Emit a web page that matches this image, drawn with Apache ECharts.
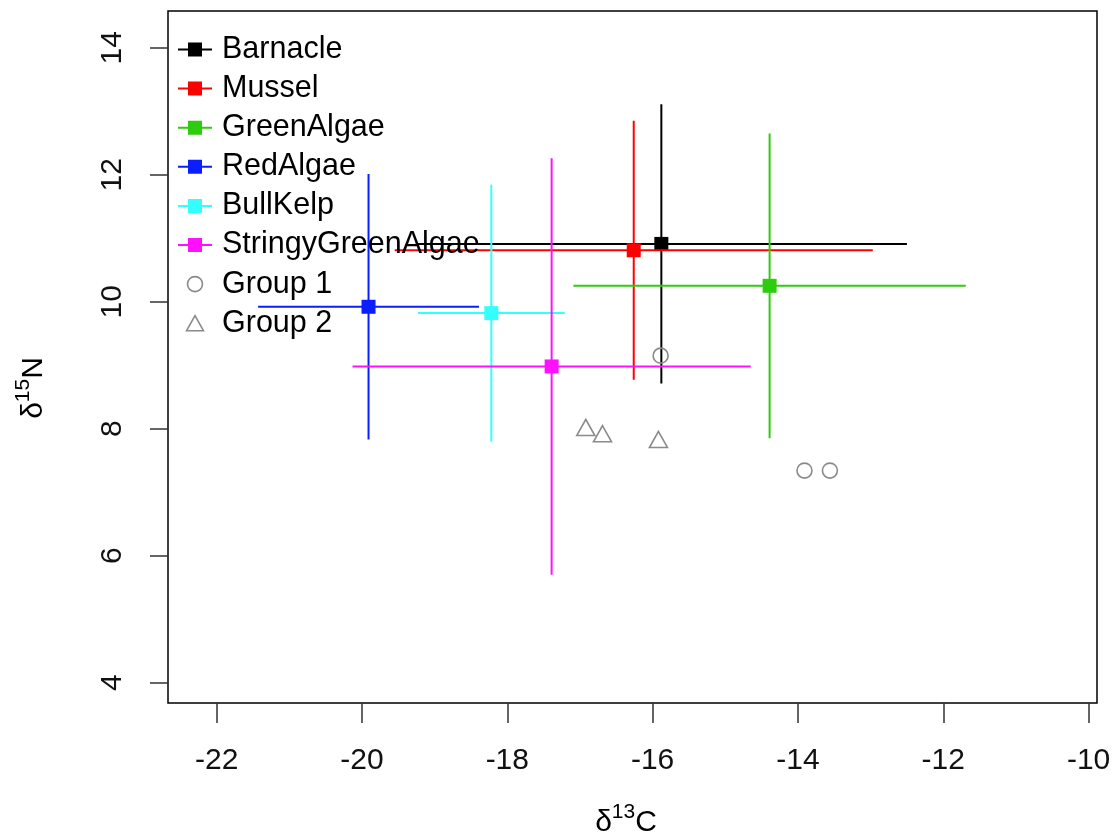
<!DOCTYPE html>
<html>
<head>
<meta charset="utf-8">
<script src="https://cdn.jsdelivr.net/npm/echarts@6/dist/echarts.min.js"></script>
<style>
html,body{margin:0;padding:0;background:#fff;}
#chart{width:1114px;height:837px;}
</style>
</head>
<body>
<div id="chart"></div>
<script>
// ---- data ----
const species = ['Barnacle', 'Mussel', 'GreenAlgae', 'RedAlgae', 'BullKelp', 'StringyGreenAlgae'];
const meanC = [-15.88, -16.26, -14.39, -19.91, -18.22, -17.39];
const meanN = [10.91, 10.81, 10.25, 9.92, 9.82, 8.98];
const sdC = [3.38, 3.29, 2.70, 1.52, 1.01, 2.74];
const sdN = [2.20, 2.04, 2.40, 2.09, 2.02, 3.28];
const group1C = [-15.89, -13.91, -13.56];
const group1N = [9.15, 7.34, 7.34];
const group2C = [-16.92, -16.69, -15.92];
const group2N = [8.02, 7.92, 7.83];
const groupNames = ['Group 1', 'Group 2'];
const xTicks = [-22, -20, -18, -16, -14, -12, -10];
const yTicks = [4, 6, 8, 10, 12, 14];

// ---- styles ----
const colors = ['#000000', '#FF0000', '#2ECC0E', '#0A1EFF', '#33FFFF', '#FF11FF'];
const grey = '#8a8a8a';
const FONT = 'Liberation Sans, Arial, Helvetica, sans-serif';

const chart = echarts.init(document.getElementById('chart'), null, {renderer: 'canvas'});

function renderErr(params, api) {
  const x = api.value(0), y = api.value(1), sx = api.value(2), sy = api.value(3);
  const c = api.coord([x, y]);
  const l = api.coord([x - sx, y]);
  const r = api.coord([x + sx, y]);
  const t = api.coord([x, y + sy]);
  const b = api.coord([x, y - sy]);
  const col = api.visual('color');
  const lw = 2;
  const half = 7;
  return {
    type: 'group',
    children: [
      {type: 'line', shape: {x1: l[0], y1: l[1], x2: r[0], y2: r[1]}, style: {stroke: col, lineWidth: lw}},
      {type: 'line', shape: {x1: t[0], y1: t[1], x2: b[0], y2: b[1]}, style: {stroke: col, lineWidth: lw}},
      {type: 'rect', shape: {x: c[0] - half, y: c[1] - half, width: 2 * half, height: 2 * half}, style: {fill: col}}
    ]
  };
}

const series = species.map((name, i) => ({
  name: name,
  type: 'custom',
  renderItem: renderErr,
  itemStyle: {color: colors[i]},
  encode: {x: 0, y: 1},
  data: [[meanC[i], meanN[i], sdC[i], sdN[i]]],
  z: 2
}));

const triPath = 'path://M9,0 L18,16 L0,16 Z';

series.push({
  name: groupNames[0],
  type: 'scatter',
  symbol: 'circle',
  symbolSize: 15,
  itemStyle: {color: 'rgba(0,0,0,0)', borderColor: grey, borderWidth: 1.6, opacity: 1},
  data: group1C.map((v, i) => [v, group1N[i]]),
  z: 3
});
series.push({
  name: groupNames[1],
  type: 'scatter',
  symbol: 'triangle',
  symbolSize: [18, 16],
  itemStyle: {color: 'rgba(0,0,0,0)', borderColor: grey, borderWidth: 1.6, opacity: 1},
  data: group2C.map((v, i) => [v, group2N[i]]),
  z: 3
});

const lineSquareIcon = 'path://M0,6 L34,6 L34,8 L0,8 Z M10,0 L24,0 L24,14 L10,14 Z';
const circlePath = 'path://M15,7.5 A7.5,7.5 0 1 1 0,7.5 A7.5,7.5 0 1 1 15,7.5 Z';

const legendData = species.map((name) => ({name: name, icon: lineSquareIcon}));
legendData.push({name: groupNames[0], icon: circlePath, itemStyle: {color: 'rgba(0,0,0,0)', borderColor: grey, borderWidth: 1.6}});
legendData.push({name: groupNames[1], icon: triPath, itemStyle: {color: 'rgba(0,0,0,0)', borderColor: grey, borderWidth: 1.6}});

const option = {
  animation: false,
  backgroundColor: '#ffffff',
  textStyle: {fontFamily: FONT},
  grid: {
    left: 168, top: 11, right: 17, bottom: 134,
    show: true, borderColor: '#000', borderWidth: 1.5, backgroundColor: 'transparent',
    containLabel: false
  },
  legend: {
    orient: 'vertical',
    left: 173,
    top: 29,
    itemWidth: 34,
    itemHeight: 15,
    itemGap: 8.1,
    symbolKeepAspect: true,
    selectedMode: false,
    data: legendData,
    textStyle: {fontSize: 30.5, color: '#000', fontFamily: FONT, lineHeight: 30, padding: [0, 0, 0, 5]}
  },
  xAxis: {
    type: 'value',
    min: -22.67,
    max: -9.884,
    axisLine: {show: false},
    splitLine: {show: false},
    axisTick: {show: true, inside: false, length: 20, lineStyle: {color: '#333', width: 1.5}, customValues: xTicks},
    axisLabel: {show: true, margin: 43, fontSize: 30, color: '#111', fontFamily: FONT, customValues: xTicks,
      formatter: (v) => String(v)}
  },
  yAxis: {
    type: 'value',
    min: 3.68,
    max: 14.578,
    axisLine: {show: false},
    splitLine: {show: false},
    axisTick: {show: true, inside: false, length: 18, lineStyle: {color: '#333', width: 1.5}, customValues: yTicks},
    axisLabel: {show: true, margin: 40, rotate: 90, fontSize: 30, color: '#111', fontFamily: FONT, customValues: yTicks,
      formatter: (v) => String(v)}
  },
  graphic: [
    {
      type: 'text',
      style: {
        x: 626, y: 838,
        text: '{b|δ}{s|13}{b|C}',
        textAlign: 'center',
        textVerticalAlign: 'bottom',
        rich: {
          b: {fontSize: 30, fontFamily: FONT, fill: '#000', verticalAlign: 'bottom', lineHeight: 36},
          s: {fontSize: 21, fontFamily: FONT, fill: '#000', verticalAlign: 'top', lineHeight: 36}
        }
      }
    },
    {
      type: 'text',
      x: 31, y: 388,
      rotation: Math.PI / 2,
      style: {
        x: 0, y: 0,
        text: '{b|δ}{s|15}{b|N}',
        align: 'center',
        verticalAlign: 'middle',
        rich: {
          b: {fontSize: 30, fontFamily: FONT, fill: '#000', verticalAlign: 'bottom', lineHeight: 36},
          s: {fontSize: 21, fontFamily: FONT, fill: '#000', verticalAlign: 'top', lineHeight: 36}
        }
      }
    }
  ],
  series: series
};
chart.setOption(option);
</script>
</body>
</html>
